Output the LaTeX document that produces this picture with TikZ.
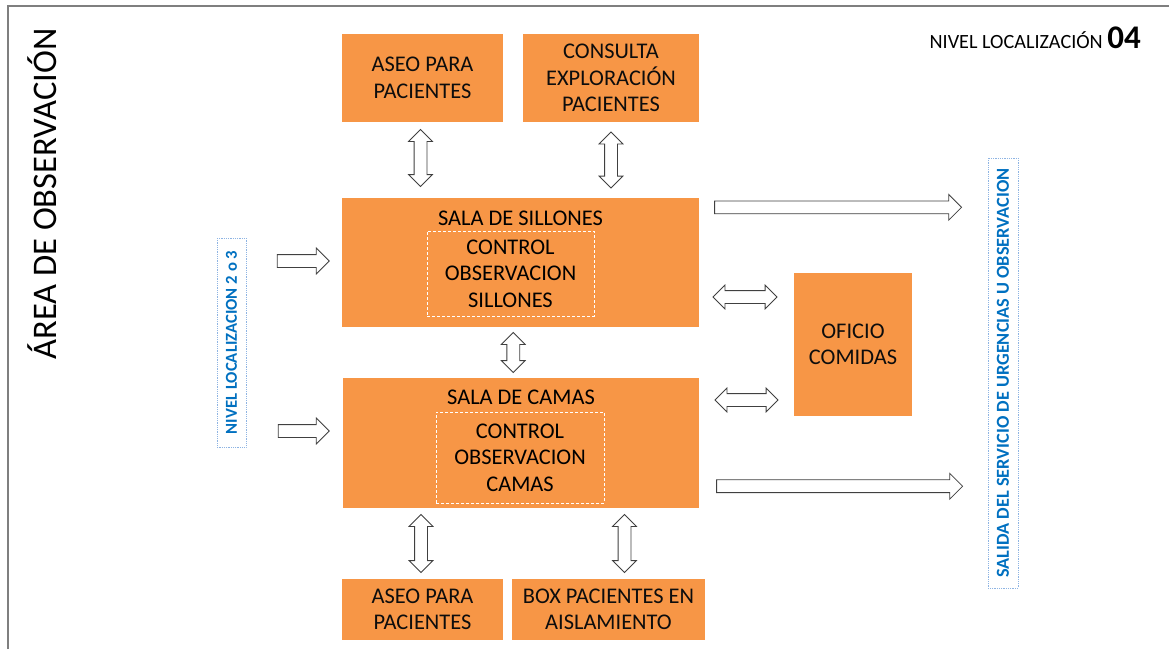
\documentclass[tikz,border=0pt]{standalone}
\usepackage{fontspec}
\setmainfont{Carlito}
\usepackage{tikz}
\usetikzlibrary{shapes.arrows}
\usetikzlibrary{calc}
\definecolor{room}{HTML}{F79646}
\definecolor{level}{HTML}{0070C0}
\definecolor{levelframe}{HTML}{8EB4E3}
\definecolor{flowline}{HTML}{404040}
\definecolor{sheet}{HTML}{7F7F7F}
\tikzset{
  % node options
  room/.style={rectangle,fill=room,text=black!95,align=center,inner sep=0pt,
    font=\fontsize{22.4}{26.5}\selectfont},
  control/.style={rectangle,draw=white,dash pattern=on 3pt off 2pt,line width=0.9pt,
    align=center,inner sep=0pt,font=\fontsize{22.4}{26.5}\selectfont},
  roomtitle/.style={inner sep=0pt,font=\fontsize{22.4}{26.5}\selectfont},
  level/.style={rectangle,draw=levelframe,densely dotted,line width=0.8pt,text=level,
    rotate=90,inner sep=0pt},
  % arrow options
  flow/.style={single arrow,draw=flowline,fill=white,line width=0.8pt,inner xsep=0pt,inner ysep=6pt,
    single arrow head extend=6.5pt,single arrow tip angle=90},
  flow bidi/.style={double arrow,draw=flowline,fill=white,line width=0.8pt,inner xsep=0pt,inner ysep=6pt,
    double arrow head extend=5.5pt,double arrow tip angle=90},
}
\newcommand{\AseoArriba}{\node[room,minimum width=161pt,minimum height=88pt] (Aseo arriba) at (422.5,78) {ASEO PARA\\PACIENTES};}
\newcommand{\Consulta}{\node[room,minimum width=176pt,minimum height=88pt] (Consulta) at (611,78) {CONSULTA\\EXPLORACIÓN\\PACIENTES};}
\newcommand{\SalaSillones}{\node[room,minimum width=357pt,minimum height=129pt] (Sala de Sillones) at (520.5,262.5) {};}
\newcommand{\SalaCamas}{\node[room,minimum width=356pt,minimum height=130pt] (Sala de Camas) at (521,443) {};}
\newcommand{\OficioComidas}{\node[room,minimum width=118pt,minimum height=143pt] (Oficio comidas) at (853,344.5) {OFICIO\\COMIDAS};}
\newcommand{\AseoAbajo}{\node[room,minimum width=161pt,minimum height=61pt] (Aseo abajo) at (422.5,609.5) {ASEO PARA\\PACIENTES};}
\newcommand{\BoxAislamiento}{\node[room,minimum width=193pt,minimum height=61pt] (Box aislamiento) at (608.5,609.5) {BOX PACIENTES EN\\AISLAMIENTO};}

\begin{document}
\begin{tikzpicture}[x=1pt,y=-1pt]
    \useasboundingbox (0,0) rectangle (1169,649);
    \draw[sheet,line width=1.2pt] (8,649) -- (8,6) -- (1169,6);
    \node[rotate=90,font=\fontsize{34.5}{40}\selectfont] (Area) at (42,194) {ÁREA DE OBSERVACIÓN};
    \node[anchor=base east,inner sep=0pt] (Nivel) at (1141,48) {\fontsize{20.2}{24}\selectfont NIVEL LOCALIZACIÓN \textbf{\fontsize{33}{36}\selectfont 04}};
    \AseoArriba
    \Consulta
    \SalaSillones
    \SalaCamas
    \OficioComidas
    \AseoAbajo
    \BoxAislamiento
    \node[roomtitle] (Sillones titulo) at (520.5,218) {SALA DE SILLONES};
    \node[control,minimum width=167pt,minimum height=85pt] (Control sillones) at (510.5,273.5) {CONTROL\\OBSERVACION\\SILLONES};
    \node[roomtitle] (Camas titulo) at (521,397) {SALA DE CAMAS};
    \node[control,minimum width=168pt,minimum height=91pt] (Control camas) at (520,457.5) {CONTROL\\OBSERVACION\\CAMAS};
    \node[level,minimum width=209pt,minimum height=29pt,font=\bfseries\fontsize{16.7}{18}\selectfont] (Nivel entrada) at (231.5,342.5) {NIVEL LOCALIZACION 2 o 3};
    \node[level,minimum width=430pt,minimum height=30pt,font=\bfseries\fontsize{18.3}{20}\selectfont] (Salida) at (1003,373) {SALIDA DEL SERVICIO DE URGENCIAS U OBSERVACION};
    % entradas
    \node[flow,minimum height=52pt,anchor=tip] (entrada sillones) at ($(Sala de Sillones.west)+(-12,-1.5)$) {};
    \node[flow,minimum height=51pt,anchor=tip] (entrada camas) at ($(Sala de Camas.west)+(-13,-12)$) {};
    % salidas
    \node[flow,minimum height=247pt,anchor=tail] (salida sillones) at ($(Sala de Sillones.north east)+(15,9.5)$) {};
    \node[flow,minimum height=246pt,anchor=tail] (salida camas) at ($(Sala de Camas.south east)+(17,-22)$) {};
    % comunicaciones
    \node[flow bidi,rotate=90,minimum height=57pt] (aseo arriba flow) at ($(Aseo arriba.south)!.5!(Aseo arriba.south |- Sala de Sillones.north)+(-2,-2)$) {};
    \node[flow bidi,rotate=90,minimum height=56pt] (consulta flow) at ($(Consulta.south)!.5!(Consulta.south |- Sala de Sillones.north)$) {};
    \node[flow bidi,rotate=90,minimum height=40pt] (sillones camas flow) at ($(Sala de Sillones.south)!.5!(Sala de Camas.north)+(-7.5,0)$) {};
    \node[flow bidi,rotate=90,minimum height=58pt] (aseo abajo flow) at ($(Aseo abajo.north)!.5!(Aseo abajo.north |- Sala de Camas.south)+(-1.5,0)$) {};
    \node[flow bidi,rotate=90,minimum height=58pt] (box flow) at ($(Box aislamiento.north)!.5!(Box aislamiento.north |- Sala de Camas.south)+(16,0)$) {};
    \node[flow bidi,minimum height=64pt] (oficio sillones flow) at ($(Sala de Sillones.east)!.5!(Oficio comidas.west |- Sala de Sillones.east)+(-1.5,34.5)$) {};
    \node[flow bidi,minimum height=63pt] (oficio camas flow) at ($(Sala de Camas.east)!.5!(Oficio comidas.west |- Sala de Camas.east)+(0,-43)$) {};
  \end{tikzpicture}
\end{document}
